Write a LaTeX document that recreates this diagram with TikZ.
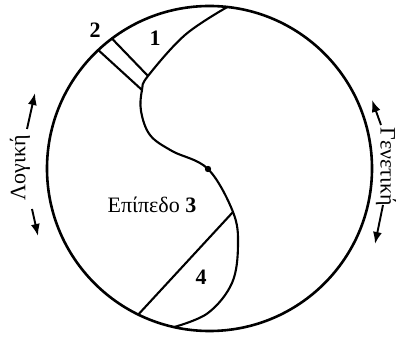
\documentclass[tikz,border=0pt]{standalone}
\usepackage{fontspec}
\setmainfont{Liberation Serif}
\usetikzlibrary{arrows.meta}

\begin{document}
\begin{tikzpicture}[
  x=1pt, y=1pt,
  rim/.style={line width=2.6pt},
  wall/.style={line width=2.1pt},
  num/.style={font=\fontsize{22}{24}\selectfont\bfseries},
  lbl/.style={font=\fontsize{22}{24}\selectfont},
  side/.style={font=\fontsize{22}{24}\selectfont, inner sep=0pt},
  every edge/.style={draw, line width=1.9pt, -{Latex[length=12pt, width=9pt]}}
]
  \useasboundingbox (0,0) rectangle (398,337);

  % circle and points on its rim
  \coordinate (O) at (209.5,168.5);
  \draw[rim] (O) circle (162.5);
  \coordinate (r1)  at ([shift={(83.7:162.5)}]O);
  \coordinate (r2a) at ([shift={(126.9:162.5)}]O);
  \coordinate (r2b) at ([shift={(133.2:162.5)}]O);
  \coordinate (r4a) at ([shift={(244:162.5)}]O);
  \coordinate (r4b) at ([shift={(257.4:162.5)}]O);
  \coordinate (k1)  at (148,261);
  \coordinate (k2)  at (142,247);
  \coordinate (mid) at (208,168);
  \coordinate (k4)  at (233,125);

  % the S-shaped border
  \draw[wall] plot[smooth, tension=0.6] coordinates {(r1) (185,302) (k1) (k2)
    (141,226) (150,202) (172,186) (mid) (k4) (238,92) (232,54) (208,24) (r4b)};
  \draw[wall] (r2a) -- (k1);
  \draw[wall] (r2b) -- (k2);
  \draw[wall] (r4a) -- (k4);
  \fill (mid) circle (3.2);

  % labels
  \node[num] (n2) at (95,307)  {2};
  \node[num] (n1) at (155,299) {1};
  \node[lbl] (n3) at (152,132) {Επίπεδο \textbf{3}};
  \node[num] (n4) at (201,60)  {4};

  % side labels with arrows
  \node[side, rotate=90]  (logic) at (20,169)  {Λογική};
  \node[side, rotate=-90] (gen)   at (386,170) {Γενετική};
  \coordinate (la1) at (27,208);  \coordinate (la2) at (35,244);
  \coordinate (lb1) at (32,128);  \coordinate (lb2) at (38,101);
  \coordinate (ga1) at (381,212); \coordinate (ga2) at (372,237);
  \coordinate (gb1) at (383,132); \coordinate (gb2) at (375,93);
  \draw (la1) edge (la2) (lb1) edge (lb2) (ga1) edge (ga2) (gb1) edge (gb2);
\end{tikzpicture}
\end{document}
